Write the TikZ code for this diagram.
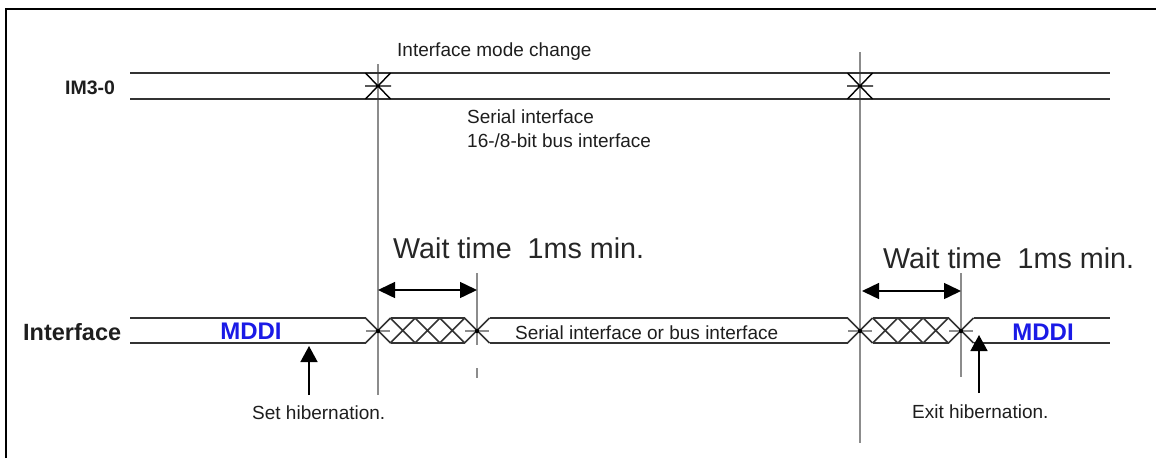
\documentclass[tikz,border=0pt]{standalone}
\usepackage{fontspec}
\setmainfont{Liberation Sans}
\usetikzlibrary{arrows.meta,positioning}
\definecolor{busline}{HTML}{333333}
\definecolor{guide}{HTML}{8C8C8C}
\definecolor{mddi}{HTML}{1A1AE6}
\definecolor{ink}{HTML}{1E1E1E}

\begin{document}
\begin{tikzpicture}[x=1pt,y=-1pt,
  bus/.style={busline,line width=1.4pt},
  guideline/.style={guide,line width=1.2pt},
  txt/.style={font=\fontsize{19}{23}\selectfont,text=ink,anchor=base west,inner sep=0pt},
  bigtxt/.style={font=\fontsize{28.7}{32}\selectfont,text=black!85,anchor=base west,inner sep=0pt},
  waitarrow/.style={{Triangle[length=17pt,width=16pt]}-{Triangle[length=17pt,width=16pt]},line width=1.5pt},
  hibarrow/.style={-{Triangle[length=16pt,width=17pt]},line width=1.5pt}]
  \useasboundingbox (0,0) rectangle (1156,458);
  % frame, top and left edges only
  \draw[line width=2.2pt] (6,458) -- (6,9.3) -- (1156,9.3);

  % guide lines
  \draw[guideline] (378,64) -- (378,395);
  \draw[guideline] (860,52) -- (860,443);
  \draw[guideline] (477,273) -- (477,345) (477,368) -- (477,378);
  \draw[guideline] (961,273) -- (961,377);

  % IM3-0 signal
  \node[txt,font=\fontsize{19.5}{23}\selectfont\bfseries] (im) at (65,94) {IM3-0};
  \draw[bus] (130,73) -- (1110,73) (130,99) -- (1110,99);
  \foreach \t in {378,860}
    \draw[line width=1.4pt] (\t-12.5,73) -- (\t+12.5,99) (\t-12.5,99) -- (\t+12.5,73) (\t-13,86) -- (\t+13,86);
  \node[txt] (modechange) at (397,56) {Interface mode change};
  \node[txt] (serial) at (467,123) {Serial interface};
  \node[txt] (bus16) at (467,147) {16-/8-bit bus interface};

  % Interface bus
  \node[txt,font=\fontsize{23.5}{27}\selectfont\bfseries] (iface) at (23,340) {Interface};
  \draw[bus] (130,318) -- (365.5,318) (130,343) -- (365.5,343);
  \draw[bus] (390.5,318) -- (464.5,318) (390.5,343) -- (464.5,343);
  \draw[bus] (489.5,318) -- (847.5,318) (489.5,343) -- (847.5,343);
  \draw[bus] (872.5,318) -- (948.5,318) (872.5,343) -- (948.5,343);
  \draw[bus] (973.5,318) -- (1110,318) (973.5,343) -- (1110,343);
  \foreach \t in {378,402.75,427.5,452.25,477,860,885.25,910.5,935.75,961}
    \draw[bus,line width=1.6pt] (\t-12.5,318) -- (\t+12.5,343) (\t-12.5,343) -- (\t+12.5,318);
  \foreach \t in {378,477,860,961} {
    \draw[guideline] (\t-12,331) -- (\t+12,331);
    \fill[black] (\t,331) circle (2.2);
  }
  \node[txt,anchor=base,font=\fontsize{24}{28}\selectfont\bfseries,text=mddi] (mddi1) at (251,339) {MDDI};
  \node[txt] (seriallabel) at (515,339) {Serial interface or bus interface};
  \node[txt,anchor=base,font=\fontsize{24}{28}\selectfont\bfseries,text=mddi] (mddi2) at (1043,340) {MDDI};

  % wait times
  \node[bigtxt] (wait1) at (393,258) {Wait time\ \ 1ms min.};
  \node[bigtxt] (wait2) at (883,268) {Wait time\ \ 1ms min.};
  \coordinate (w1a) at (378,290);
  \coordinate (w1b) at (477,290);
  \coordinate (w2a) at (862,291);
  \coordinate (w2b) at (961,291);
  \draw[waitarrow] (w1a) -- (w1b);
  \draw[waitarrow] (w2a) -- (w2b);

  % hibernation markers
  \node[txt] (sethib) at (252,419) {Set hibernation.};
  \node[txt] (exithib) at (912,418) {Exit hibernation.};
  \coordinate (set0) at (309,395);
  \coordinate (set1) at (309,346);
  \coordinate (exit0) at (979,393);
  \coordinate (exit1) at (979,335);
  \draw[hibarrow] (set0) -- (set1);
  \draw[hibarrow] (exit0) -- (exit1);
\end{tikzpicture}
\end{document}
